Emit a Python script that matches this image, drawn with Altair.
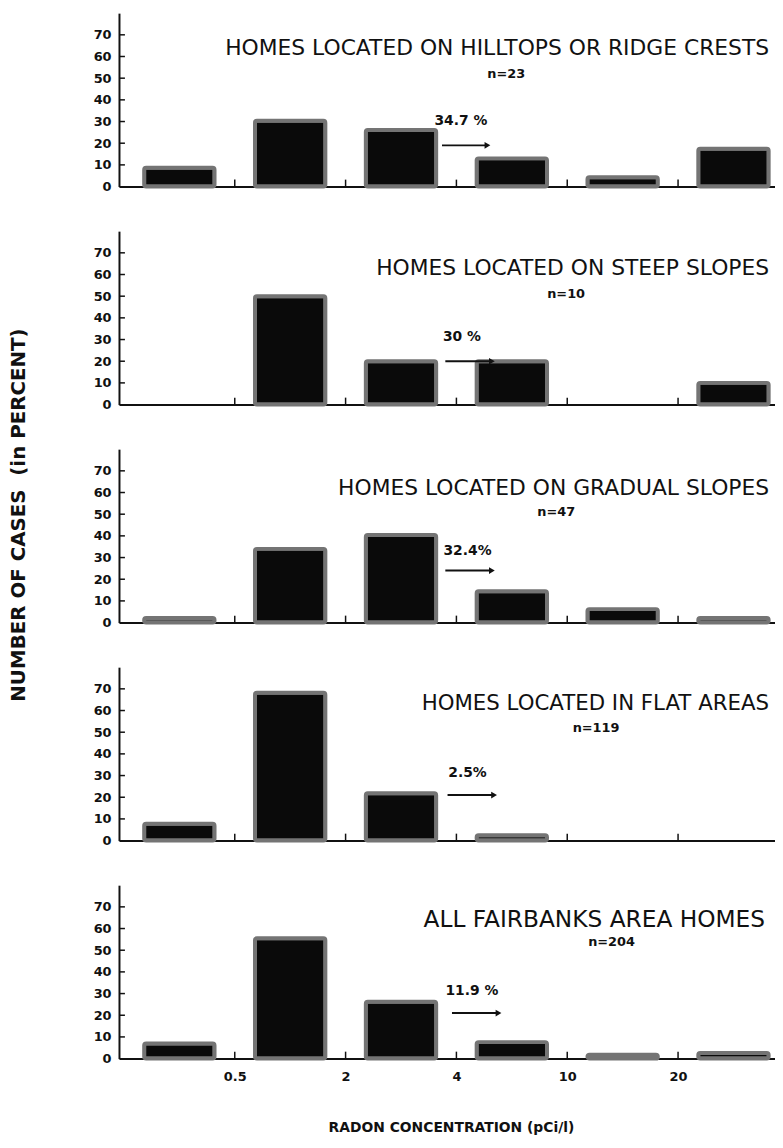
import json
import altair as alt
import pandas as pd

# ---- data ----
bins = ["<0.5", "0.5-2", "2-4", "4-10", "10-20", ">20"]
tick_labels = ["0.5", "2", "4", "10", "20"]
y_ticks = [0, 10, 20, 30, 40, 50, 60, 70]

hilltops = [8.7, 30.4, 26.1, 13.0, 4.3, 17.4]
steep = [0, 50, 20, 20, 0, 10]
gradual = [2.1, 34.0, 40.4, 14.5, 6.2, 2.1]
flat = [7.8, 68.2, 21.8, 2.5, 0, 0]
all_homes = [7.0, 55.5, 26.2, 7.6, 1.8, 2.6]

titles = [
    "HOMES LOCATED ON HILLTOPS OR RIDGE CRESTS",
    "HOMES LOCATED ON STEEP SLOPES",
    "HOMES LOCATED ON GRADUAL SLOPES",
    "HOMES LOCATED IN FLAT AREAS",
    "ALL FAIRBANKS AREA HOMES",
]
n_labels = ["n=23", "n=10", "n=47", "n=119", "n=204"]
pct_labels = ["34.7 %", "30 %", "32.4%", "2.5%", "11.9 %"]

# ---- annotation placement (data units) ----
title_y = [64, 63, 62, 63, 64]
title_dx = [-1, -1, -1, -1, -5]
title_size = [22, 22, 22, 21.5, 23.5]
n_x = [3.45, 3.99, 3.9, 4.26, 4.4]
n_y = [52, 51, 51, 52, 54]
pct_x = [3.04, 3.05, 3.1, 3.1, 3.14]
pct_y = [30, 31, 33, 31, 31]
arrow_x0 = [2.87, 2.9, 2.9, 2.92, 2.96]
arrow_x1 = [3.28, 3.32, 3.32, 3.34, 3.38]
arrow_y = [19, 20, 24, 21, 21]

series = [hilltops, steep, gradual, flat, all_homes]

W, H = 662, 175
X_MAX = 5.83
FONT = "DejaVu Sans"
label_expr = json.dumps(tick_labels) + "[datum.value - 1]"


def panel(i):
    values = series[i]
    last = i == len(series) - 1
    df = pd.DataFrame({"bin": bins, "center": [k + 0.5 for k in range(len(bins))], "pct": values})
    df = df[df["pct"] > 0]
    xscale = alt.Scale(domain=[0, X_MAX], nice=False, zero=False)
    yscale = alt.Scale(domain=[0, 80], nice=False)

    xaxis = alt.Axis(
        values=list(range(1, len(bins))),
        labels=last,
        labelExpr=label_expr,
        ticks=False,
        grid=False,
        domainWidth=2,
        domainColor="#111",
        labelFont=FONT,
        labelFontSize=13,
        labelFontWeight="bold",
        labelPadding=12,
        labelColor="#111",
        title="RADON CONCENTRATION  (pCi/l)" if last else None,
        titleFont=FONT,
        titleFontSize=14,
        titleFontWeight="bold",
        titlePadding=38,
        titleColor="#111",
        titleX=335,
    )
    yaxis = alt.Axis(
        values=y_ticks,
        ticks=False,
        grid=False,
        domainWidth=2,
        domainColor="#111",
        labelFont=FONT,
        labelFontSize=13,
        labelFontWeight="bold",
        labelPadding=8,
        labelOverlap=False,
        labelColor="#111",
        title="NUMBER OF CASES\u00a0 (in PERCENT)" if i == 2 else None,
        titleFont=FONT,
        titleFontSize=20,
        titleFontWeight="bold",
        titleColor="#111",
        titleX=-91,
        titleY=66,
    )

    def X(field):
        return alt.X(field, scale=xscale, axis=xaxis)

    def Y(field):
        return alt.Y(field, scale=yscale, axis=yaxis)

    bars = alt.Chart(df).mark_bar(
        width=71, color="#0a0a0a", stroke="#747474", strokeWidth=4, cornerRadius=2
    ).encode(x=X("center:Q"), y=Y("pct:Q"))

    ytick_df = pd.DataFrame({"v": y_ticks[1:]})
    yt = alt.Chart(ytick_df).mark_rule(color="#111", strokeWidth=1.5).encode(
        y=Y("v:Q"), x=alt.value(0), x2=alt.value(6)
    )
    xtick_df = pd.DataFrame({"b": list(range(1, len(bins)))})
    xt = alt.Chart(xtick_df).mark_rule(color="#111", strokeWidth=1.5).encode(
        x=X("b:Q"), y=alt.value(H), y2=alt.value(H - 7)
    )

    def text_layer(txt, x, y, **kw):
        d = pd.DataFrame({"t": [txt], "x": [x], "y": [y]})
        return alt.Chart(d).mark_text(baseline="middle", font=FONT, color="#111", **kw).encode(
            x=X("x:Q"), y=Y("y:Q"), text="t:N"
        )

    title = text_layer(titles[i], X_MAX, title_y[i], align="right", fontSize=title_size[i], dx=title_dx[i])
    ntext = text_layer(n_labels[i], n_x[i], n_y[i], align="center", fontSize=13, fontWeight="bold")
    ptext = text_layer(pct_labels[i], pct_x[i], pct_y[i], align="center", fontSize=14, fontWeight="bold")

    arr_df = pd.DataFrame({"x0": [arrow_x0[i]], "x1": [arrow_x1[i]], "y": [arrow_y[i]]})
    arr_line = alt.Chart(arr_df).mark_rule(color="#111", strokeWidth=2).encode(
        x=X("x0:Q"), x2="x1:Q", y=Y("y:Q")
    )
    arr_head = alt.Chart(arr_df).mark_point(
        shape="triangle-right", filled=True, size=45, color="#111", opacity=1
    ).encode(x=X("x1:Q"), y=Y("y:Q"))

    return alt.layer(bars, yt, xt, title, ntext, ptext, arr_line, arr_head).properties(
        width=W, height=H
    )


chart = (
    alt.vconcat(*[panel(i) for i in range(len(series))], spacing=45, bounds="flush")
    .properties(padding={"left": 0, "top": 0, "right": 0, "bottom": 5}, background="white")
    .configure_view(stroke=None)
)

chart.save("out.html", embed_options={"renderer": "svg", "actions": False})
